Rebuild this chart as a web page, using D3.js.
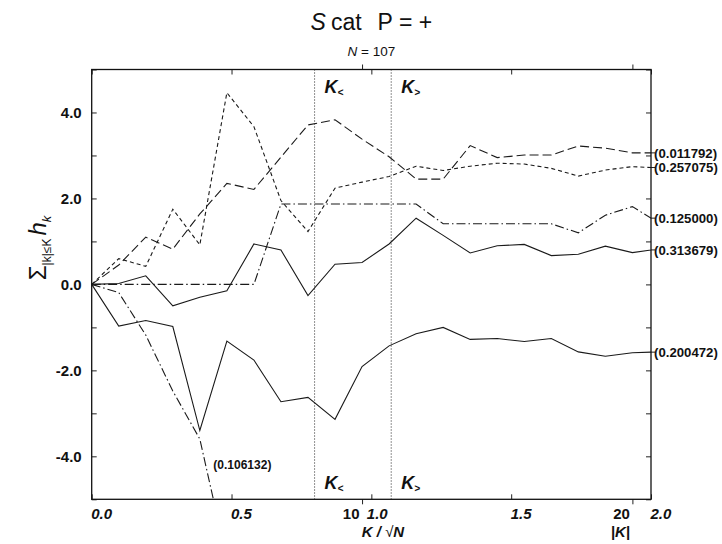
<!DOCTYPE html>
<html>
<head>
<meta charset="utf-8">
<script src="https://cdn.jsdelivr.net/npm/d3@7"></script>
<style>
  body { margin: 0; background: #fff; }
  text { font-family: "Liberation Sans", Arial, sans-serif; fill: #111; }
</style>
</head>
<body>
<script>
//Declare consts/global variables
    const width = 722;
    const height = 544;
    const margin = {top: 69.5, right: 71, bottom: 44.7, left: 91.7};
    const N = 107;
    const sqrtN = Math.sqrt(N);

//Data - partial sums, one value per |K| = 0..21
    const kIndex = d3.range(0, 22);
    const solidUpper = [0, 0.02, 0.20, -0.50, -0.30, -0.15, 0.94, 0.80, -0.26, 0.47, 0.51, 0.94, 1.54, 1.14, 0.73, 0.90, 0.93, 0.67, 0.70, 0.89, 0.74, 0.83];
    const solidLower = [0, -0.97, -0.84, -0.98, -3.40, -1.32, -1.76, -2.73, -2.63, -3.14, -1.91, -1.43, -1.15, -1.00, -1.28, -1.26, -1.33, -1.26, -1.57, -1.67, -1.59, -1.57];
    const longDash = [0, 0.45, 1.10, 0.82, 1.64, 2.35, 2.21, 2.96, 3.71, 3.83, 3.38, 2.97, 2.45, 2.45, 3.23, 2.95, 3.01, 3.01, 3.22, 3.17, 3.06, 3.06];
    const shortDash = [0, 0.60, 0.42, 1.75, 0.92, 4.46, 3.67, 1.95, 1.23, 2.24, 2.38, 2.51, 2.75, 2.65, 2.75, 2.82, 2.80, 2.70, 2.52, 2.66, 2.74, 2.71];
    const dashDotUpper = [0, 0, 0, 0, 0, 0, 0, 1.87, 1.87, 1.87, 1.87, 1.87, 1.87, 1.41, 1.41, 1.41, 1.41, 1.41, 1.20, 1.61, 1.81, 1.42];
    const dashDotLower = [0, -0.19, -1.18, -2.48, -3.60, -6.40];
    const seriesLabels = ["(0.313679)", "(0.200472)", "(0.011792)", "(0.257075)", "(0.125000)", "(0.106132)"];

    const yTicks = [-5, -4, -3, -2, -1, 0, 1, 2, 3, 4, 5];
    const yTickLabels = [-4, -2, 0, 2, 4];
    const xTicks = [0, 0.5, 1.0, 1.5, 2.0];
    const kTicks = [10, 20];
    const kLess = 0.797;   // K< in K/sqrt(N)
    const kMore = 1.071;   // K> in K/sqrt(N)
    const lostLabelPos = [0.435, -4.2]; // where "(0.106132)" sits

//Scales
    const xScale = d3.scaleLinear()
                    .domain([0, 2.0])
                    .range([margin.left, width - margin.right]);

    const kScale = d3.scaleLinear()   // |K| on the same axis
                    .domain([0, 2.0 * sqrtN])
                    .range([margin.left, width - margin.right]);

    const yScale = d3.scaleLinear()
                    .domain([-5, 5])
                    .range([height - margin.bottom, margin.top]);

    const x0 = margin.left, x1 = width - margin.right;
    const y0 = margin.top, y1 = height - margin.bottom;

//SVG
    const svg = d3.select("body")
                .append("svg")
                .attr("width", width)
                .attr("height", height);

    svg.append("clipPath").attr("id", "plot")
        .append("rect")
        .attr("x", x0).attr("y", y0)
        .attr("width", x1 - x0).attr("height", y1 - y0);

//Title
    const title = svg.append("text")
        .attr("x", (x0 + x1) / 2).attr("y", 30)
        .attr("text-anchor", "middle")
        .style("font-size", "23px");
    title.append("tspan").style("font-style", "italic").text("S");
    title.append("tspan").attr("dx", 5).text("cat");
    title.append("tspan").attr("dx", 16).text("P = +");

    const sub = svg.append("text")
        .attr("x", (x0 + x1) / 2).attr("y", 56)
        .attr("text-anchor", "middle")
        .style("font-size", "13.5px");
    sub.append("tspan").style("font-style", "italic").text("N");
    sub.append("tspan").text(" = 107");

//Vertical dotted markers
    [kLess, kMore].forEach(v => {
        svg.append("line")
            .attr("x1", xScale(v)).attr("x2", xScale(v))
            .attr("y1", y0).attr("y2", y1)
            .attr("stroke", "#222").attr("stroke-width", 1)
            .attr("stroke-dasharray", "1,2");
    });

    const kMarks = [[kLess, "<"], [kMore, ">"]];
    [93, 489].forEach(ty => {
        kMarks.forEach(([v, s]) => {
            const t = svg.append("text")
                .attr("x", xScale(v) + 10).attr("y", ty)
                .style("font-size", "18px").style("font-weight", "bold").style("font-style", "italic");
            t.append("tspan").text("K");
            t.append("tspan").attr("dy", 3).style("font-size", "10px").text(s);
        });
    });

//Lines
    const line = d3.line()
        .x((d, i) => xScale(kIndex[i] / sqrtN))
        .y(d => yScale(d));

    const series = [
        {values: solidUpper, dash: null, label: seriesLabels[0]},
        {values: solidLower, dash: null, label: seriesLabels[1]},
        {values: longDash, dash: "9,4", label: seriesLabels[2]},
        {values: shortDash, dash: "4,3", label: seriesLabels[3]},
        {values: dashDotUpper, dash: "9,3,1.5,3", label: seriesLabels[4]},
        {values: dashDotLower, dash: "9,3,1.5,3", label: null}
    ];

    svg.append("g")
        .attr("clip-path", "url(#plot)")
        .selectAll("path")
        .data(series)
        .enter()
        .append("path")
        .attr("d", d => line(d.values))
        .attr("fill", "none")
        .attr("stroke", "#1a1a1a")
        .attr("stroke-width", 1.1)
        .attr("stroke-dasharray", d => d.dash);

//Right-hand labels at the value where each line meets the frame
    const edgeK = 2.0 * sqrtN;
    series.filter(d => d.label).forEach(d => {
        const v = d.values[20] + (edgeK - 20) * (d.values[21] - d.values[20]);
        svg.append("line")
            .attr("x1", x1).attr("x2", x1 + 4)
            .attr("y1", yScale(v)).attr("y2", yScale(v))
            .attr("stroke", "#222");
        svg.append("text")
            .attr("x", x1 + 3).attr("y", yScale(v))
            .attr("dy", "0.35em")
            .style("font-size", "13.2px").style("font-weight", "bold")
            .text(d.label);
    });

    svg.append("text")
        .attr("x", xScale(lostLabelPos[0])).attr("y", yScale(lostLabelPos[1]))
        .attr("dy", "0.35em")
        .style("font-size", "12px").style("font-weight", "bold")
        .text(seriesLabels[5]);

//Axes - create axes
    const leftAxis = d3.axisLeft(yScale)
        .tickValues(yTicks)
        .tickSize(-5)
        .tickPadding(10)
        .tickFormat(d => yTickLabels.includes(d) ? d.toFixed(1) : "");

    const rightAxis = d3.axisRight(yScale).tickValues(yTicks).tickSize(-5).tickFormat("");

    const bottomAxis = d3.axisBottom(xScale)
        .tickValues(xTicks)
        .tickSize(-5)
        .tickPadding(9)
        .tickFormat(d => d.toFixed(1));

    const topAxis = d3.axisTop(xScale).tickValues(xTicks).tickSize(-5).tickFormat("");

    const kBottomAxis = d3.axisBottom(kScale).tickValues(kTicks).tickSize(5).tickPadding(4);
    const kTopAxis = d3.axisTop(kScale).tickValues(kTicks).tickSize(5).tickFormat("");

//Axes - call axes
    const gl = svg.append("g").attr("transform", "translate(" + x0 + ",0)").call(leftAxis);
    gl.selectAll("text").style("font-size", "15px").style("font-weight", "bold");

    svg.append("g").attr("transform", "translate(" + x1 + ",0)").call(rightAxis);
    svg.append("g").attr("transform", "translate(0," + y0 + ")").call(topAxis);
    svg.append("g").attr("transform", "translate(0," + y0 + ")").call(kTopAxis);

    const gb = svg.append("g").attr("transform", "translate(0," + y1 + ")").call(bottomAxis);
    gb.selectAll("text")
        .attr("text-anchor", "start")
        .attr("dx", d => d === 1.0 ? -5 : -1)
        .style("font-size", "15px").style("font-weight", "bold").style("font-style", "italic");

    const gk = svg.append("g").attr("transform", "translate(0," + y1 + ")").call(kBottomAxis);
    gk.selectAll("text")
        .attr("text-anchor", "end")
        .attr("dx", -3)
        .style("font-size", "15px").style("font-weight", "bold");

    svg.selectAll(".domain").remove();
    svg.selectAll(".tick line").attr("stroke", "#222");

//Frame
    svg.append("rect")
        .attr("x", x0).attr("y", y0)
        .attr("width", x1 - x0).attr("height", y1 - y0)
        .attr("fill", "none").attr("stroke", "#111").attr("stroke-width", 1.3);

//Axis titles
    const xt = svg.append("text")
        .attr("x", 383).attr("y", 537)
        .attr("text-anchor", "middle")
        .style("font-size", "15px").style("font-weight", "bold").style("font-style", "italic");
    xt.append("tspan").text("K / ");
    xt.append("tspan").style("font-style", "normal").style("font-weight", "normal").text("\u221A");
    xt.append("tspan").text("N");

    svg.append("text")
        .attr("x", kScale(20) - 12).attr("y", 537)
        .attr("text-anchor", "middle")
        .style("font-size", "15px").style("font-weight", "bold").style("font-style", "italic")
        .text("|K|");

    const yt = svg.append("text")
        .attr("transform", "translate(46,248) rotate(-90)")
        .attr("text-anchor", "middle");
    yt.append("tspan").style("font-size", "24px").text("\u03A3");
    yt.append("tspan").attr("dy", 5).style("font-size", "12px").text("|k|\u2264K");
    yt.append("tspan").attr("dy", -5).attr("dx", 3).style("font-size", "24px").style("font-style", "italic").text("h");
    yt.append("tspan").attr("dy", 5).style("font-size", "13px").style("font-style", "italic").text("k");
</script>
</body>
</html>
